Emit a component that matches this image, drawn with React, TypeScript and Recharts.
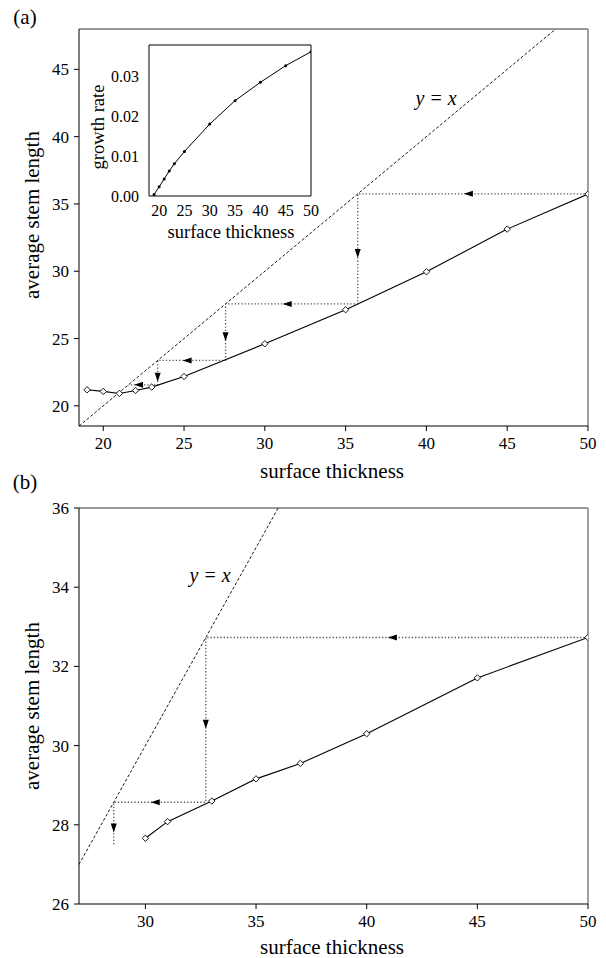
import React from 'react';
import {
  ComposedChart,
  Line,
  Scatter,
  XAxis,
  YAxis,
  ReferenceLine,
  ReferenceDot,
} from 'recharts';

const FONT = '"Liberation Serif", "Times New Roman", serif';

// (a) average stem length against surface thickness
const thicknessA = [19, 20, 21, 22, 23, 25, 30, 35, 40, 45, 50];
const stemLengthA = [21.19, 21.07, 20.92, 21.14, 21.39, 22.18, 24.61, 27.14, 29.96, 33.13, 35.73];
// successive iterates of the map, starting from 50
const iteratesA = [50, 35.75, 27.57, 23.37, 21.56];

// inset: growth rate against surface thickness
const thicknessInset = [19, 20, 21, 22, 23, 25, 30, 35, 40, 45, 50];
const growthRate = [0.0004, 0.0023, 0.0043, 0.0063, 0.0081, 0.0112, 0.0181, 0.024, 0.0286, 0.0328, 0.0363];

// (b) same map over the thicker range
const thicknessB = [30, 31, 33, 35, 37, 40, 45, 50];
const stemLengthB = [27.66, 28.08, 28.6, 29.16, 29.55, 30.3, 31.71, 32.73];
const iteratesB = [50, 32.73, 28.57, 27.5];

const xTicksA = [20, 25, 30, 35, 40, 45, 50];
const yTicksA = [20, 25, 30, 35, 40, 45];
const xTicksB = [30, 35, 40, 45, 50];
const yTicksB = [26, 28, 30, 32, 34, 36];
const xTicksInset = [20, 25, 30, 35, 40, 45, 50];
const yTicksInset = [0, 0.01, 0.02, 0.03];

const domainAx: [number, number] = [18.5, 50];
const domainAy: [number, number] = [18.5, 48];
const domainBx: [number, number] = [27, 50];
const domainBy: [number, number] = [26, 36];
const domainInsetX: [number, number] = [18, 50];
const domainInsetY: [number, number] = [0, 0.038];

const toPoints = (xs: number[], ys: number[]) => xs.map((x, i) => ({ x, y: ys[i] }));

type Arrow = { x: number; y: number; dir: 'left' | 'down' };

// staircase between the curve and the diagonal, with an arrow half way along each leg
function cobweb(steps: number[], endOnDiagonal: boolean) {
  const path = [{ x: steps[0], y: steps[1] }];
  const arrows: Arrow[] = [];
  const n = steps.length;
  for (let i = 1; i < n - 1; i++) {
    const prev = steps[i - 1];
    const s = steps[i];
    const next = steps[i + 1];
    path.push({ x: s, y: s });
    arrows.push({ x: (prev + s) / 2, y: s, dir: 'left' });
    path.push({ x: s, y: next });
    arrows.push({ x: s, y: (s + next) / 2, dir: 'down' });
  }
  if (endOnDiagonal) {
    const last = steps[n - 1];
    path.push({ x: last, y: last });
    arrows.push({ x: (steps[n - 2] + last) / 2, y: last, dir: 'left' });
  }
  return { path, arrows };
}

const Diamond = (props: any) => {
  const { cx, cy, index } = props;
  if (cx == null || cy == null) return <g key={`d-${index}`} />;
  const r = 3.2;
  return (
    <path
      key={`d-${index}`}
      d={`M${cx},${cy - r}L${cx + r},${cy}L${cx},${cy + r}L${cx - r},${cy}Z`}
      fill="#fff"
      stroke="#000"
      strokeWidth={0.9}
    />
  );
};

const SmallDot = (props: any) => {
  const { cx, cy, index } = props;
  if (cx == null || cy == null) return <g key={`s-${index}`} />;
  return <circle key={`s-${index}`} cx={cx} cy={cy} r={1.5} fill="#000" />;
};

const ArrowHead = (props: any) => {
  const { cx, cy, payload } = props;
  const len = 9;
  const half = 3;
  const pts =
    payload.dir === 'left'
      ? `${cx - len},${cy} ${cx},${cy - half} ${cx},${cy + half}`
      : `${cx},${cy + len} ${cx - half},${cy} ${cx + half},${cy}`;
  return <polygon points={pts} fill="#000" />;
};

const tickStyle = { fill: '#000', fontSize: 17, fontFamily: FONT };
const insetTickStyle = { fill: '#000', fontSize: 16, fontFamily: FONT };
const dotted = { stroke: '#555', strokeWidth: 1.3, strokeDasharray: '1.3 2' };
const dashed = { stroke: '#000', strokeWidth: 0.9, strokeDasharray: '3 2' };
const diagonalLabel = { value: 'y = x', position: 'center' as const, fontStyle: 'italic', fontSize: 20, fill: '#000' };

const Title: React.FC<{ x: number; y: number; size: number; rotate?: boolean; children: React.ReactNode }> = ({
  x,
  y,
  size,
  rotate,
  children,
}) => (
  <div
    style={{
      position: 'absolute',
      left: x,
      top: y,
      transform: `translate(-50%, -50%)${rotate ? ' rotate(-90deg)' : ''}`,
      fontSize: size,
      lineHeight: 1,
      whiteSpace: 'nowrap',
      color: '#000',
    }}
  >
    {children}
  </div>
);

const PanelA = () => {
  const curve = toPoints(thicknessA, stemLengthA);
  const { path, arrows } = cobweb(iteratesA, true);
  return (
    <ComposedChart width={606} height={480} margin={{ top: 29, right: 18, left: 0, bottom: 0 }} style={{ fontFamily: FONT }}>
      <XAxis
        type="number"
        dataKey="x"
        domain={domainAx}
        ticks={xTicksA}
        allowDataOverflow
        height={54}
        tickSize={5}
        tickMargin={6}
        tick={tickStyle}
        stroke="#000"
      />
      <YAxis
        type="number"
        dataKey="y"
        domain={domainAy}
        ticks={yTicksA}
        allowDataOverflow
        width={79}
        tickSize={5}
        tickMargin={5}
        tick={tickStyle}
        stroke="#000"
      />
      <ReferenceLine y={domainAy[1]} stroke="#333" strokeWidth={1} />
      <ReferenceLine x={domainAx[1]} stroke="#888" strokeWidth={1.6} />
      <ReferenceLine
        segment={[
          { x: domainAx[0], y: domainAx[0] },
          { x: domainAy[1], y: domainAy[1] },
        ]}
        {...dashed}
      />
      <ReferenceDot x={40.6} y={42.9} r={0} fill="none" stroke="none" label={diagonalLabel} />
      <Line data={path} dataKey="y" type="linear" dot={false} activeDot={false} isAnimationActive={false} {...dotted} />
      <Scatter data={arrows} shape={ArrowHead} isAnimationActive={false} />
      <Line
        data={curve}
        dataKey="y"
        type="linear"
        stroke="#000"
        strokeWidth={1.1}
        dot={Diamond}
        activeDot={false}
        isAnimationActive={false}
      />
    </ComposedChart>
  );
};

const Inset = () => {
  const curve = toPoints(thicknessInset, growthRate);
  return (
    <ComposedChart width={240} height={200} margin={{ top: 5, right: 9, left: 0, bottom: 0 }} style={{ fontFamily: FONT }}>
      <XAxis
        type="number"
        dataKey="x"
        domain={domainInsetX}
        ticks={xTicksInset}
        allowDataOverflow
        height={44}
        tickSize={4}
        tickMargin={5}
        tickLine={false}
        tick={insetTickStyle}
        stroke="#000"
      />
      <YAxis
        type="number"
        dataKey="y"
        domain={domainInsetY}
        ticks={yTicksInset}
        tickFormatter={(v: number) => v.toFixed(2)}
        allowDataOverflow
        width={69}
        tickSize={4}
        tickMargin={6}
        tickLine={false}
        tick={insetTickStyle}
        stroke="#000"
      />
      <ReferenceLine y={domainInsetY[1]} stroke="#000" strokeWidth={1} />
      <ReferenceLine x={domainInsetX[1]} stroke="#000" strokeWidth={1} />
      <Line
        data={curve}
        dataKey="y"
        type="linear"
        stroke="#000"
        strokeWidth={1}
        dot={SmallDot}
        activeDot={false}
        isAnimationActive={false}
      />
    </ComposedChart>
  );
};

const PanelB = () => {
  const curve = toPoints(thicknessB, stemLengthB);
  const { path, arrows } = cobweb(iteratesB, false);
  return (
    <ComposedChart width={606} height={478} margin={{ top: 28, right: 18, left: 0, bottom: 0 }} style={{ fontFamily: FONT }}>
      <XAxis
        type="number"
        dataKey="x"
        domain={domainBx}
        ticks={xTicksB}
        allowDataOverflow
        height={54}
        tickSize={5}
        tickMargin={6}
        tick={tickStyle}
        stroke="#000"
      />
      <YAxis
        type="number"
        dataKey="y"
        domain={domainBy}
        ticks={yTicksB}
        allowDataOverflow
        width={79}
        tickSize={5}
        tickMargin={5}
        tick={tickStyle}
        stroke="#000"
      />
      <ReferenceLine y={domainBy[1]} stroke="#333" strokeWidth={1} />
      <ReferenceLine x={domainBx[1]} stroke="#888" strokeWidth={1.6} />
      <ReferenceLine
        segment={[
          { x: domainBx[0], y: domainBx[0] },
          { x: domainBy[1], y: domainBy[1] },
        ]}
        {...dashed}
      />
      <ReferenceDot x={32.92} y={34.31} r={0} fill="none" stroke="none" label={diagonalLabel} />
      <Line data={path} dataKey="y" type="linear" dot={false} activeDot={false} isAnimationActive={false} {...dotted} />
      <Scatter data={arrows} shape={ArrowHead} isAnimationActive={false} />
      <Line
        data={curve}
        dataKey="y"
        type="linear"
        stroke="#000"
        strokeWidth={1.1}
        dot={Diamond}
        activeDot={false}
        isAnimationActive={false}
      />
    </ComposedChart>
  );
};

export default function App() {
  return (
    <div
      style={{
        position: 'absolute',
        left: 0,
        top: 0,
        width: 606,
        height: 958,
        background: '#fff',
        overflow: 'hidden',
        fontFamily: FONT,
      }}
    >
      <div style={{ position: 'absolute', left: 0, top: 0 }}>
        <PanelA />
      </div>
      <div style={{ position: 'absolute', left: 80, top: 40 }}>
        <Inset />
      </div>
      <div style={{ position: 'absolute', left: 0, top: 480 }}>
        <PanelB />
      </div>

      <Title x={25} y={17} size={21}>(a)</Title>
      <Title x={332} y={471} size={21}>surface thickness</Title>
      <Title x={32} y={215} size={21} rotate>average stem length</Title>
      <Title x={231} y={232} size={18.5}>surface thickness</Title>
      <Title x={98} y={127} size={18.5} rotate>growth rate</Title>

      <Title x={25} y={482} size={21}>(b)</Title>
      <Title x={332} y={947} size={21}>surface thickness</Title>
      <Title x={32} y={706} size={21} rotate>average stem length</Title>
    </div>
  );
}
